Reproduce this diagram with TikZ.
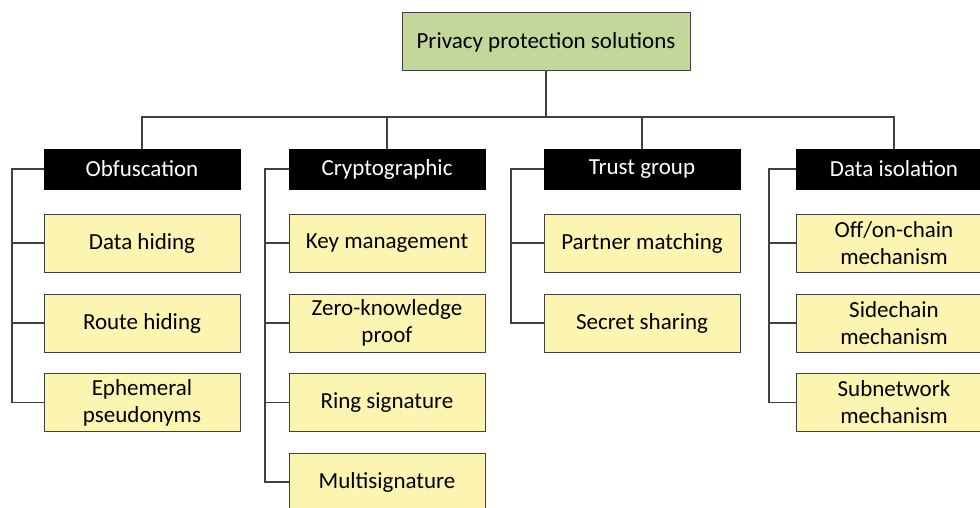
\documentclass[tikz,border=0pt]{standalone}
\usepackage{fontspec}
\setmainfont{Carlito}
\usepackage{tikz}
\usepackage{xcolor}
\usetikzlibrary{positioning}

\definecolor{rootgreen}{HTML}{C4D79B}
\definecolor{leafyellow}{HTML}{FCF5B2}
\definecolor{linegray}{HTML}{404040}

\tikzset{
  rootbox/.style={draw=linegray,fill=rootgreen,line width=1pt,minimum width=288pt,minimum height=58pt,inner sep=0pt},
  catbox/.style={draw=black,fill=black,text=white,minimum width=196pt,minimum height=40pt,inner sep=0pt},
  leafbox/.style={draw=linegray,fill=leafyellow,line width=1pt,minimum width=196pt,minimum height=58pt,inner sep=0pt,align=center},
  link/.style={draw=linegray,line width=1.1pt}
}

\begin{document}
\begin{tikzpicture}[x=1pt,y=-1pt,font=\fontsize{23}{27}\selectfont]

\clip (0,0) rectangle (980,508);

\node[rootbox] (root) at (546,42){Privacy protection solutions};

\node[catbox] (c1) at (142,169){Obfuscation};
\node[catbox] (c2) at (387,169){Cryptographic};
\node[catbox] (c3) at (642,169){Trust group};
\node[catbox] (c4) at (894,169){Data isolation};

\node[leafbox] (d1) at (142,243){Data hiding};
\node[leafbox] (d2) at (142,323){Route hiding};
\node[leafbox] (d3) at (142,402.5){Ephemeral\\pseudonyms};

\node[leafbox] (k1) at (387,243){Key management};
\node[leafbox] (k2) at (387,323){Zero-knowledge\\proof};
\node[leafbox] (k3) at (387,402.5){Ring signature};
\node[leafbox] (k4) at (387,482){Multisignature};

\node[leafbox] (g1) at (642,243){Partner matching};
\node[leafbox] (g2) at (642,323){Secret sharing};

\node[leafbox] (s1) at (894,243){Off/on-chain\\mechanism};
\node[leafbox] (s2) at (894,323){Sidechain\\mechanism};
\node[leafbox] (s3) at (894,402.5){Subnetwork\\mechanism};

\coordinate (bus) at (546,117);
\coordinate (t1) at (12,169);
\coordinate (t2) at (265,169);
\coordinate (t3) at (511,169);
\coordinate (t4) at (769,169);

% top level
\draw[link] (root) -- (bus);
\draw[link] (c1.north) |- (bus);
\draw[link] (c2.north) |- (bus);
\draw[link] (c3.north) |- (bus);
\draw[link] (c4.north) |- (bus);

% branches
\draw[link] (c1.west) -- (t1) |- (d3.west);
\draw[link] (t1) |- (d1.west);
\draw[link] (t1) |- (d2.west);

\draw[link] (c2.west) -- (t2) |- (k4.west);
\draw[link] (t2) |- (k1.west);
\draw[link] (t2) |- (k2.west);
\draw[link] (t2) |- (k3.west);

\draw[link] (c3.west) -- (t3) |- (g2.west);
\draw[link] (t3) |- (g1.west);

\draw[link] (c4.west) -- (t4) |- (s3.west);
\draw[link] (t4) |- (s1.west);
\draw[link] (t4) |- (s2.west);

\end{tikzpicture}
\end{document}
